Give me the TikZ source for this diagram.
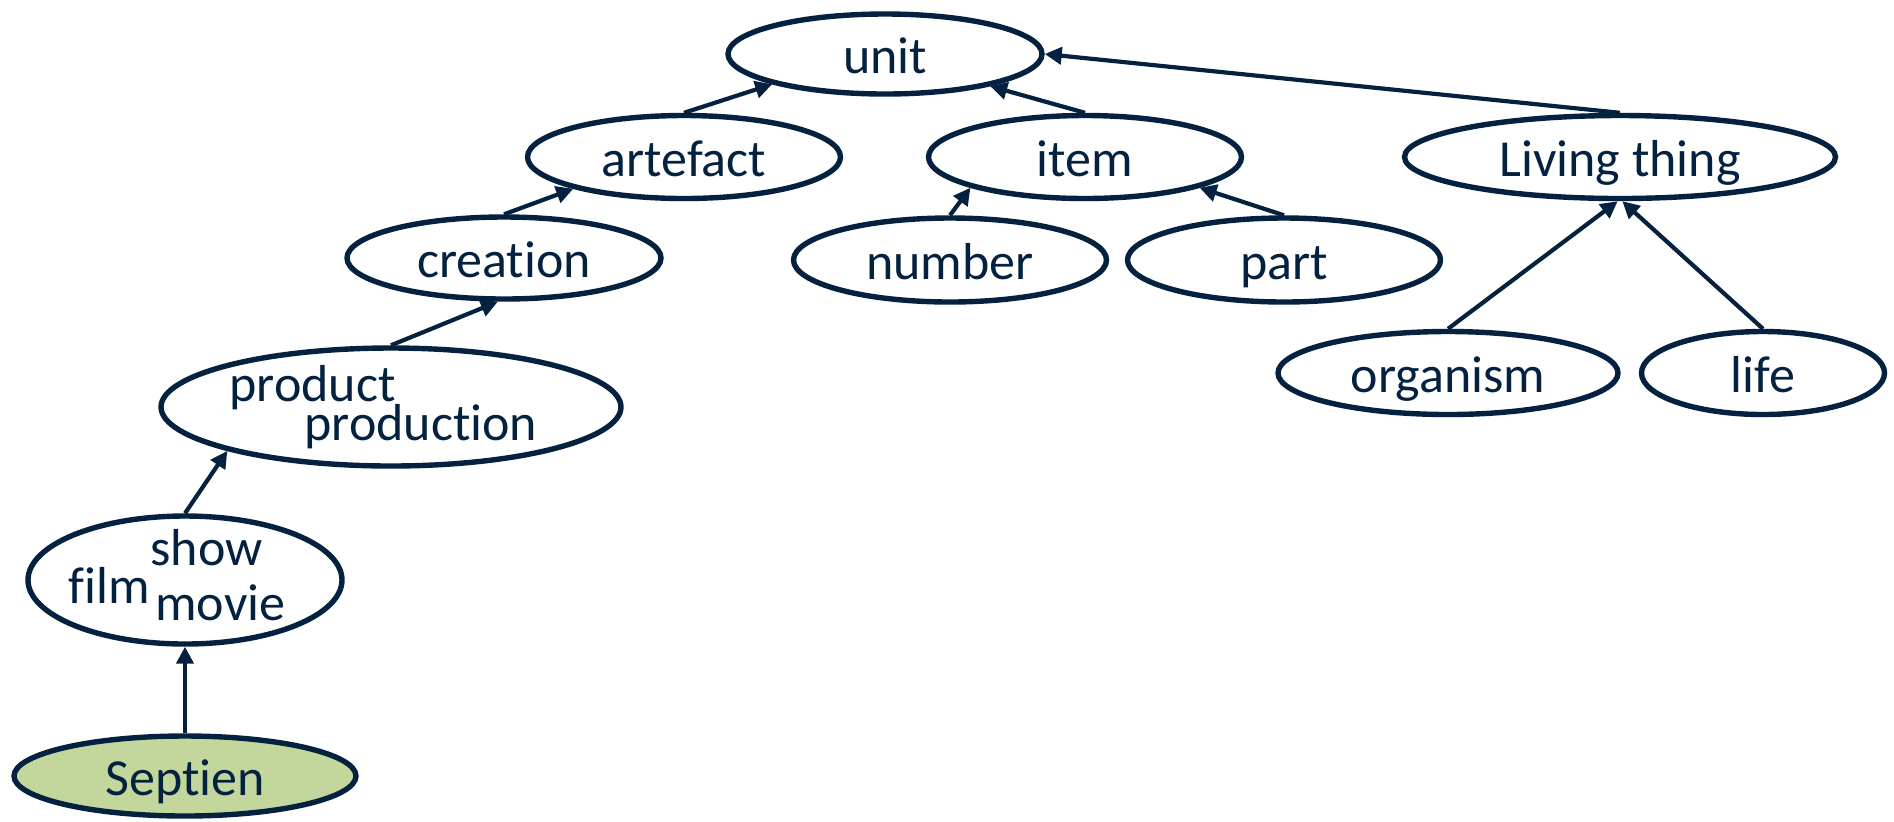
\documentclass[tikz,border=0pt]{standalone}
\usepackage{fontspec}
\setmainfont{Carlito}[Ligatures={NoCommon,NoRequired,NoContextual}]
\usetikzlibrary{shapes.geometric,arrows.meta}
\definecolor{ink}{RGB}{4,34,64}
\definecolor{leaf}{RGB}{195,214,155}
\begin{document}
\begin{tikzpicture}[x=0.5pt,y=-0.5pt,
  concept/.style={ellipse,draw=ink,line width=2.7pt,fill=white,inner sep=0pt,text=ink,
    font=\fontsize{26}{31}\selectfont,text height=19pt,text depth=0pt},
  word/.style={inner sep=0pt,anchor=base west,text=ink,font=\fontsize{26}{31}\selectfont},
  isa/.style={draw=ink,line width=2.1pt,-{Triangle[length=8.5pt,width=8.5pt]}}]
\useasboundingbox (0,0) rectangle (1894,821);

% concept ellipses
\node[concept,minimum width=157pt,minimum height=40pt]   (unit)     at (885,54)  {unit};
\node[concept,minimum width=156.5pt,minimum height=41.5pt] (artefact) at (684,157) {artefact};
\node[concept,minimum width=156.5pt,minimum height=41.5pt] (item)     at (1085,157) {item};
\node[concept,minimum width=215.5pt,minimum height=41.5pt] (living)   at (1620,157) {Living thing};
\node[concept,minimum width=157pt,minimum height=41pt]   (creation) at (504,258) {creation};
\node[concept,minimum width=156.5pt,minimum height=42pt] (number)   at (950,260) {number};
\node[concept,minimum width=156.5pt,minimum height=42pt] (part)     at (1284,260) {part};
\node[concept,minimum width=170pt,minimum height=41.5pt] (organism) at (1448,373) {organism};
\node[concept,minimum width=121.5pt,minimum height=41.5pt] (life)   at (1763,373) {life};
\node[concept,minimum width=230pt,minimum height=59pt]   (product)  at (391,407) {};
\node[concept,minimum width=157pt,minimum height=64pt]   (show)     at (185,580) {};
\node[concept,fill=leaf,minimum width=171pt,minimum height=40pt] (septien) at (185,776) {Septien};

% synonym labels inside the multi-word ellipses
\node[word] (w-product)    at (229,401) {product};
\node[word] (w-production) at (304,440) {production};
\node[word] (w-show)  at (150,565) {show};
\node[word] (w-film)  at (68,603)  {film};
\node[word] (w-movie) at (155,620) {movie};

% hypernym links
\draw[isa] (artefact.north) -- (unit.195);
\draw[isa] (item.north) -- (unit.343);
\draw[isa] (living.north) -- (unit.east);
\draw[isa] (creation.north) -- (artefact.196);
\draw[isa] (number.north) -- (item.195);
\draw[isa] (part.north) -- (item.345);
\draw[isa] (organism.north) -- (living.267);
\draw[isa] (life.north) -- (living.273);
\draw[isa] (product.north) -- (creation.262);
\draw[isa] (show.north) -- (product.195);
\draw[isa] (septien.north) -- (show.south);
\end{tikzpicture}
\end{document}
